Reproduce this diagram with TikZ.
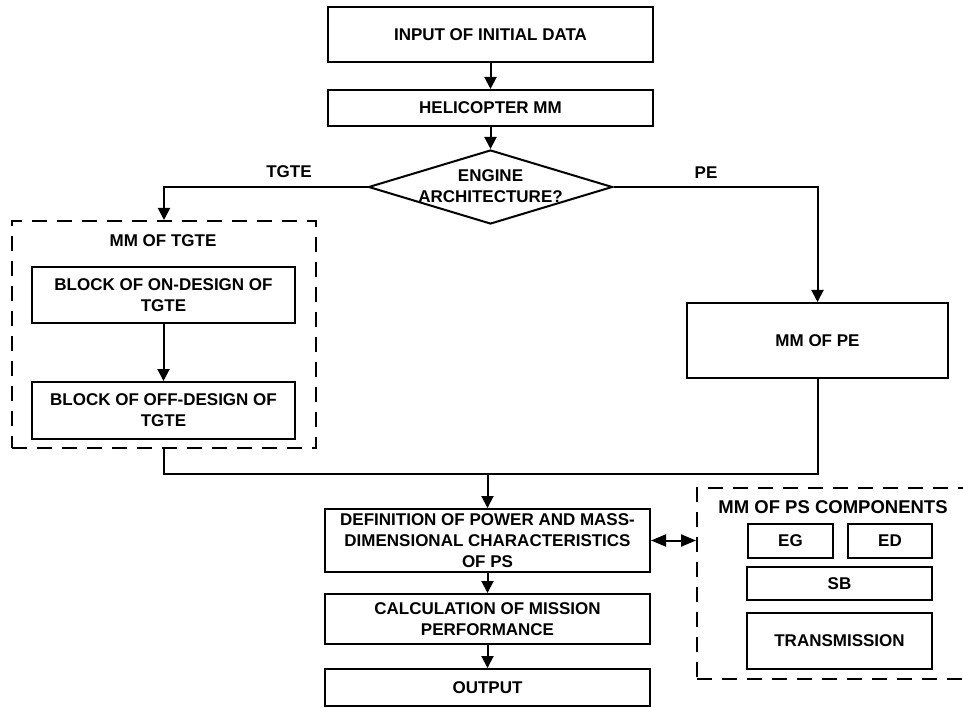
\documentclass[tikz,border=0pt]{standalone}
\usepackage{fontspec}
\setmainfont{Liberation Sans}
\usetikzlibrary{arrows.meta,shapes.geometric}
\begin{document}
\begin{tikzpicture}[x=1pt,y=-1pt,
  every node/.style={font=\bfseries\fontsize{17}{21}\selectfont, text=black},
  box/.style={draw, line width=2pt, align=center, inner sep=0pt},
  dashbox/.style={draw, line width=2pt, dash pattern=on 15pt off 10pt, inner sep=0pt},
  link/.style={line width=2pt},
  tip/.tip={Triangle[length=12pt,width=12pt]},
  bigtip/.tip={Triangle[length=15pt,width=12pt]},
  arrow/.style={link, -tip},
  twoway/.style={link, bigtip-bigtip},
]
% page frame
\useasboundingbox (0,0) rectangle (963,708);
\clip (0,0) rectangle (963,708);
\fill[white] (0,0) rectangle (963,708);

% main column, top part
\node[box, minimum width=325pt, minimum height=55pt] (input) at (490.5,34.5) {INPUT OF INITIAL DATA};
\node[box, minimum width=325pt, minimum height=36pt] (heli) at (490.5,108) {HELICOPTER MM};
\node[diamond, draw, line width=2pt, inner sep=0pt, minimum width=244pt, minimum height=74pt] (arch) at (490.5,187) {};
\node[align=center] (archtext) at (490.5,186) {ENGINE\\ARCHITECTURE?};

% branch labels
\node (tgtelabel) at (289,172) {TGTE};
\node (pelabel) at (706,173) {PE};

% turbine engine model
\node[dashbox, minimum width=304pt, minimum height=227pt] (tgte) at (164,334.5) {};
\node (tgtetitle) at (163,241) {MM OF TGTE};
\node[box, minimum width=263pt, minimum height=56pt] (ondes) at (163.5,295) {BLOCK OF ON-DESIGN OF\\TGTE};
\node[box, minimum width=263pt, minimum height=57pt] (offdes) at (163.5,410.5) {BLOCK OF OFF-DESIGN OF\\TGTE};

% piston engine model
\node[box, minimum width=261pt, minimum height=75pt] (pe) at (817.5,340.5) {MM OF PE};

% main column, bottom part
\node[box, minimum width=325pt, minimum height=63pt] (defn) at (487.5,540.5) {DEFINITION OF POWER AND MASS-\\DIMENSIONAL CHARACTERISTICS\\OF PS};
\node[box, minimum width=325pt, minimum height=50pt] (calc) at (487.5,619) {CALCULATION OF MISSION\\PERFORMANCE};
\node[box, minimum width=325pt, minimum height=37pt] (out) at (487.5,687.5) {OUTPUT};

% power system components (box runs past the right edge of the page)
\node[dashbox, minimum width=280pt, minimum height=191pt] (ps) at (837,583.5) {};
\node[font=\bfseries\fontsize{18.5}{22}\selectfont] (pstitle) at (833,507) {MM OF PS COMPONENTS};
\node[box, minimum width=85pt, minimum height=34pt] (eg) at (790.5,541) {EG};
\node[box, minimum width=84pt, minimum height=34pt] (ed) at (890,541) {ED};
\node[box, minimum width=185pt, minimum height=33pt] (sb) at (839.5,583.5) {SB};
\node[box, minimum width=185pt, minimum height=56pt] (trans) at (839.5,641) {TRANSMISSION};

% connectors
\draw[arrow] (input) -- (heli);
\draw[arrow] (heli) -- (arch);
\draw[arrow] (arch.west) -| (tgte.north);
\draw[arrow] (arch.east) -| (pe.north);
\draw[arrow] (ondes) -- (offdes);
\coordinate (merge) at (487.5,474);
\draw[link] (tgte.south) |- (merge);
\draw[link] (pe.south) |- (merge);
\draw[arrow] (merge) -- (defn.north);
\draw[arrow] (defn) -- (calc);
\draw[arrow] (calc) -- (out);
\draw[twoway] (defn.east) -- (defn.east -| ps.west);
\end{tikzpicture}
\end{document}
